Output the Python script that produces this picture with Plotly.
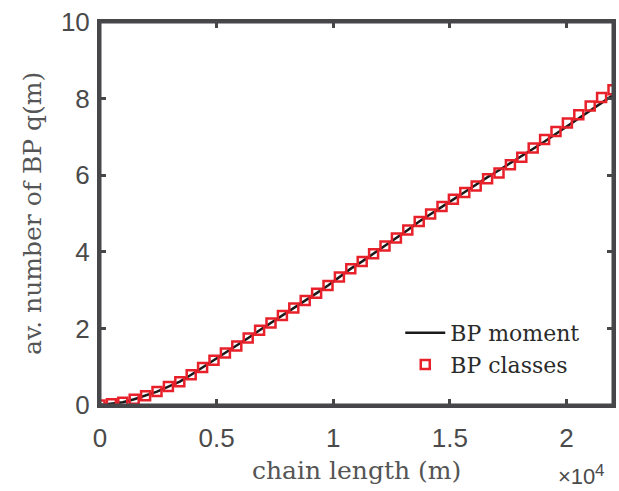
import numpy as np
import plotly.graph_objects as go

chain_length = np.linspace(0, 22000, 46)

classes_q = [0.00, 0.03, 0.07, 0.15, 0.24, 0.35, 0.48, 0.61, 0.79, 0.98,
             1.17, 1.36, 1.54, 1.75, 1.95, 2.14, 2.34, 2.53, 2.73, 2.92,
             3.12, 3.34, 3.56, 3.75, 3.95, 4.15, 4.36, 4.57, 4.79, 4.99,
             5.18, 5.37, 5.55, 5.72, 5.91, 6.06, 6.27, 6.47, 6.71, 6.93,
             7.14, 7.36, 7.58, 7.81, 8.03, 8.23]

moment_q = [0.00, 0.03, 0.07, 0.15, 0.24, 0.35, 0.48, 0.61, 0.79, 0.98,
            1.17, 1.36, 1.54, 1.75, 1.95, 2.14, 2.34, 2.53, 2.73, 2.92,
            3.12, 3.34, 3.56, 3.75, 3.95, 4.15, 4.36, 4.57, 4.79, 4.99,
            5.18, 5.37, 5.56, 5.76, 5.95, 6.13, 6.31, 6.50, 6.69, 6.88,
            7.08, 7.28, 7.48, 7.68, 7.88, 8.09]

x_tickvals = [0, 5000, 10000, 15000, 20000]
x_ticktext = ["0", "0.5", "1", "1.5", "2"]
y_tickvals = [0, 2, 4, 6, 8, 10]

AX = "#47474a"
TXT = "#4a4a4a"
SANS = "Liberation Sans, Arial, sans-serif"
SERIF = "DejaVu Serif, serif"

L, R, T, B = 100, 3, 22, 86
PW, PH = 619 - L - R, 491 - T - B

fig = go.Figure()
fig.add_trace(go.Scatter(x=chain_length, y=moment_q, mode="lines",
                         name="BP moment",
                         line=dict(color="#1a1a1a", width=2.5)))
fig.add_trace(go.Scatter(x=chain_length, y=classes_q, mode="markers",
                         name="BP classes",
                         marker=dict(symbol="square-open", size=9,
                                     color="#e8202a",
                                     line=dict(width=2.5, color="#e8202a"))))

fig.update_layout(
    width=619, height=491,
    margin=dict(l=L, r=R, t=T, b=B),
    paper_bgcolor="white", plot_bgcolor="white",
    showlegend=True,
    legend=dict(x=(402 - L) / PW, y=(491 - B - 312) / PH,
                xanchor="left", yanchor="top",
                bgcolor="rgba(0,0,0,0)", borderwidth=0,
                font=dict(family=SERIF, size=22, color="#2a2a2a"),
                itemwidth=40, tracegroupgap=0),
    xaxis=dict(range=[0, 22000], tickvals=x_tickvals, ticktext=x_ticktext,
               ticks="inside", ticklen=6, tickwidth=3, tickcolor=AX,
               showline=True, linecolor=AX, linewidth=3, mirror="allticks",
               showgrid=False, zeroline=False,
               tickfont=dict(family=SANS, size=26, color=TXT),
               ticklabelstandoff=8),
    yaxis=dict(range=[0, 10], tickvals=y_tickvals,
               ticks="inside", ticklen=6, tickwidth=3, tickcolor=AX,
               showline=True, linecolor=AX, linewidth=3, mirror="allticks",
               showgrid=False, zeroline=False,
               tickfont=dict(family=SANS, size=26, color=TXT),
               ticklabelstandoff=2),
)

fig.add_shape(type="rect", xref="paper", yref="paper", x0=0, x1=1, y0=0, y1=1,
              line=dict(color=AX, width=3), layer="above")

fig.add_annotation(text="chain length (m)", xref="paper", yref="paper",
                   x=0.5, y=-(470 - 405) / PH,
                   xanchor="center", yanchor="middle", showarrow=False,
                   font=dict(family=SERIF, size=25, color="#555555"))
fig.add_annotation(text="av. number of BP q(m)", xref="paper", yref="paper",
                   x=-(L - 32) / PW, y=0.5, textangle=-90,
                   xanchor="center", yanchor="middle", showarrow=False,
                   font=dict(family=SERIF, size=25, color="#555555"))
fig.add_annotation(text="\u00d710", xref="paper", yref="paper",
                   x=(599 - L) / PW, y=-(490 - 405) / PH,
                   xanchor="right", yanchor="bottom", showarrow=False,
                   borderpad=0,
                   font=dict(family=SANS, size=22, color=TXT))
fig.add_annotation(text="4", xref="paper", yref="paper",
                   x=(597 - L) / PW, y=-(470 - 405) / PH,
                   xanchor="left", yanchor="middle", showarrow=False,
                   borderpad=0,
                   font=dict(family=SANS, size=17, color=TXT))

fig.write_html("out.html")
